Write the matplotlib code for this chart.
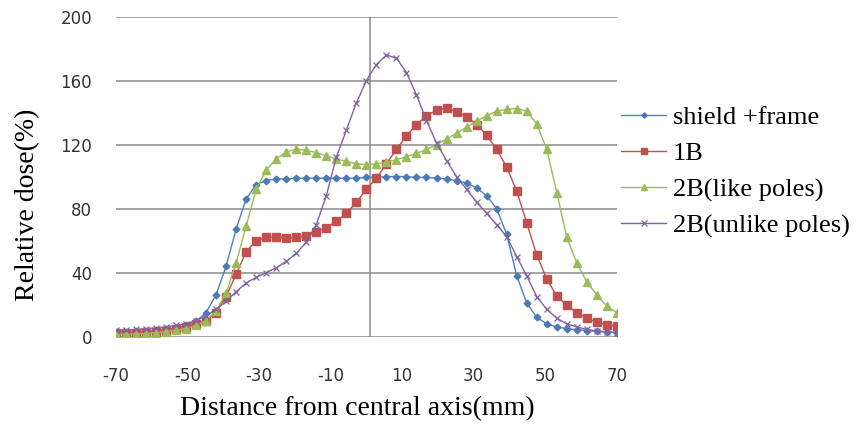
import matplotlib
matplotlib.use("Agg")
import matplotlib.pyplot as plt

# distance from central axis (mm), sampling grid of the measurements
x_mm = [-70, -67.2, -64.4, -61.6, -58.8, -56, -53.2, -50.4, -47.6, -44.8,
        -42, -39.2, -36.4, -33.6, -30.8, -28, -25.2, -22.4, -19.6, -16.8,
        -14, -11.2, -8.4, -5.6, -2.8, 0, 2.8, 5.6, 8.4, 11.2,
        14, 16.8, 19.6, 22.4, 25.2, 28, 30.8, 33.6, 36.4, 39.2,
        42, 44.8, 47.6, 50.4, 53.2, 56, 58.8, 61.6, 64.4, 67.2, 70]

shield_frame = [3, 3, 3.2, 3.5, 4, 4.5, 5.5, 7, 9.5, 15,
                26, 44, 67, 86, 95, 97.5, 98.5, 98.5, 99, 99,
                99, 99, 99, 99, 99, 99.5, 99.5, 100, 100, 100,
                99.5, 99.5, 99, 98.5, 97.5, 96, 93, 88, 80, 64,
                38, 21, 12, 8, 6, 5, 4.3, 3.8, 3.2, 2.8, 2.5]

one_b = [2, 2, 2, 2.5, 3, 3.5, 4.5, 6, 8, 10,
         15, 25, 39, 53, 60, 62, 62.3, 61.5, 62, 63,
         65.5, 68, 72, 77, 84, 92, 99, 108, 117, 125.5,
         132.5, 138, 141.5, 143, 140.5, 137.5, 132.5, 126, 117, 106,
         91, 71, 51, 36, 25.5, 19.5, 15, 11.5, 9, 7.5, 6.5]

two_b_like = [1.5, 1.5, 1.8, 2, 2.5, 3, 4, 5, 7, 10,
              16, 27, 46, 69, 92, 104, 111, 115.5, 117, 116.5,
              115, 113, 111, 109.5, 108, 107.5, 108, 109, 110.5, 112.5,
              114.5, 117, 120, 123.5, 127, 131, 134.5, 138, 141, 142,
              142.5, 141, 133, 117, 90, 62, 46, 34, 26, 19, 15]

two_b_unlike = [4, 4, 4.5, 5, 5.5, 6, 7, 8, 10, 13,
                17, 22, 28, 33.5, 37, 40, 43, 47, 52, 59,
                70, 88, 112, 129, 146, 160, 170, 176, 174, 165,
                151, 135, 121, 110, 100, 92, 84, 77, 70, 62.5,
                50, 38, 25, 17, 11.5, 8, 6, 4.5, 3.5, 3, 2.5]

labels = ["shield +frame", "1B", "2B(like poles)", "2B(unlike poles)"]
x_ticks = [-70, -50, -30, -10, 10, 30, 50, 70]
y_ticks = [0, 40, 80, 120, 160, 200]

serif = ["Liberation Serif", "DejaVu Serif"]
plt.rcParams["axes.unicode_minus"] = False

fig = plt.figure(figsize=(8.58, 4.25), dpi=100)
ax = fig.add_axes([0.135, 0.208, 0.584, 0.753])

grid_col = "#8a8a8a"
for yv in y_ticks:
    ax.axhline(yv, color=grid_col, lw=1.1, zorder=0)
ax.axvline(1, color=grid_col, lw=1.1, zorder=0)

ax.plot(x_mm, shield_frame, color="#4F81BD", lw=1.0, marker="D", ms=3.4,
        mfc="#4a7ab5", mec="#4a7ab5", label=labels[0])
ax.plot(x_mm, one_b, color="#C0504D", lw=1.0, marker="s", ms=6,
        mfc="#C0504D", mec="#C0504D", label=labels[1])
ax.plot(x_mm, two_b_like, color="#9BBB59", lw=1.0, marker="^", ms=5.2,
        mfc="#9BBB59", mec="#9BBB59", label=labels[2])
ax.plot(x_mm, two_b_unlike, color="#8064A2", lw=1.0, marker="x", ms=5,
        mew=0.9, label=labels[3])

ax.set_xlim(-70, 70)
ax.set_ylim(0, 200)
ax.set_xticks(x_ticks)
ax.set_yticks(y_ticks)
ax.tick_params(length=0, labelsize=12, labelcolor="#333333")
ax.tick_params(axis="x", pad=22)
ax.tick_params(axis="y", pad=17)
for s in ax.spines.values():
    s.set_visible(False)

fig.text(0.416, 0.038, "Distance from central axis(mm)", family=serif,
         fontsize=20, ha="center", va="center")
fig.text(0.032, 0.518, "Relative dose(%)", family=serif, fontsize=20,
         rotation=90, ha="center", va="center")

fig.legend(loc="upper left", bbox_to_anchor=(0.724, 0.752), frameon=False,
           prop={"family": serif, "size": 19}, handlelength=1.7,
           handletextpad=0.25, labelspacing=0.48, borderpad=0,
           borderaxespad=0, markerscale=0.8)

fig.savefig("out.png", dpi=100)
